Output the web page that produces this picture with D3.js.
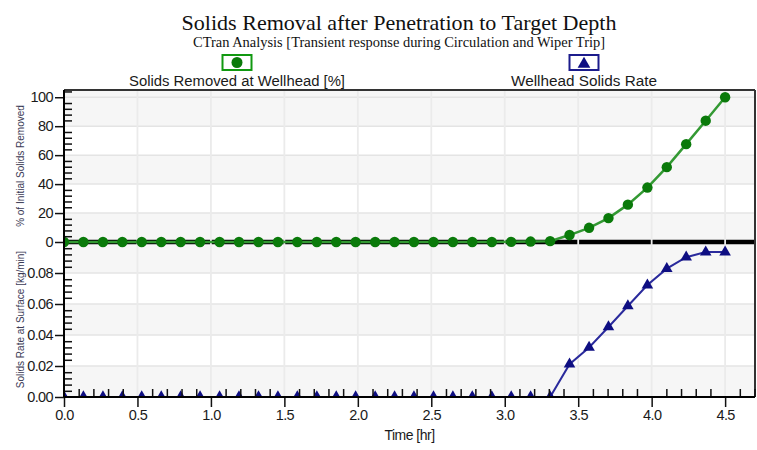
<!DOCTYPE html>
<html>
<head>
<meta charset="utf-8">
<script src="https://cdn.jsdelivr.net/npm/d3@7/dist/d3.min.js"></script>
<style>
  html, body { margin: 0; padding: 0; background: #fff; }
  svg { display: block; }
  text { font-family: "Liberation Sans", Arial, sans-serif; }
</style>
</head>
<body>
<svg id="chart" width="757" height="450"></svg>
<script>
// Elapsed time of each sample [hr]
const times = [0, 0.132, 0.265, 0.397, 0.529, 0.662, 0.794, 0.926, 1.059, 1.191,
  1.324, 1.456, 1.588, 1.721, 1.853, 1.985, 2.118, 2.25, 2.382, 2.515,
  2.647, 2.779, 2.912, 3.044, 3.176, 3.309, 3.441, 3.574, 3.706, 3.838,
  3.971, 4.103, 4.235, 4.368, 4.5];

// Solids removed at wellhead [% of initial solids]
const removedPct = [0, 0, 0, 0, 0, 0, 0, 0, 0, 0,
  0, 0, 0, 0, 0, 0, 0, 0, 0, 0,
  0, 0, 0, 0.1, 0.3, 0.6, 4.8, 9.8, 16.5, 25.8,
  37.6, 51.7, 67.6, 83.8, 100];

// Wellhead solids rate [kg/min]
const solidsRate = [0, 0, 0, 0, 0, 0, 0, 0, 0, 0,
  0, 0, 0, 0, 0, 0, 0, 0, 0, 0,
  0, 0, 0, 0, 0, 0, 0.0212, 0.032, 0.0452, 0.0587,
  0.0722, 0.0828, 0.0902, 0.0935, 0.0935];

const xTicks = [0, 0.5, 1, 1.5, 2, 2.5, 3, 3.5, 4, 4.5];
const pctTicks = [0, 20, 40, 60, 80, 100];
const rateTicks = [0, 0.02, 0.04, 0.06, 0.08];

const titleText = "Solids Removal after Penetration to Target Depth";
const subtitleText = "CTran Analysis [Transient response during Circulation and Wiper Trip]";
const legendNames = ["Solids Removed at Wellhead [%]", "Wellhead Solids Rate"];

const svg = d3.select("#chart");

const L = 64, R = 755, T = 90, MID = 242, B = 397;

const x = d3.scaleLinear().domain([0, 4.7]).range([L, R - 0.5]);
const yPct = d3.scaleLinear().domain([0, 105]).range([MID, T]);
const yRate = d3.scaleLinear().domain([0, 0.1]).range([B, MID]);

const GREEN_LINE = "#339933", GREEN_DOT = "#0a7a0a";
const BLUE_LINE = "#2a2a9c", BLUE_DOT = "#0e0e82";

// ---- alternating background bands ----
const bandFill = "#f6f6f6";
[[0, 20], [40, 60], [80, 105]].forEach(([a, b]) => {
  svg.append("rect").attr("x", L).attr("width", R - L)
    .attr("y", yPct(b)).attr("height", yPct(a) - yPct(b)).attr("fill", bandFill);
});
[[0, 0.02], [0.04, 0.06], [0.08, 0.1]].forEach(([a, b]) => {
  svg.append("rect").attr("x", L).attr("width", R - L)
    .attr("y", yRate(b)).attr("height", yRate(a) - yRate(b)).attr("fill", bandFill);
});

// ---- horizontal grid lines ----
const gridColor = "#e4e4e4";
pctTicks.forEach(v => {
  svg.append("line").attr("x1", L).attr("x2", R).attr("y1", yPct(v)).attr("y2", yPct(v))
    .attr("stroke", gridColor).attr("stroke-width", 1.5);
});
rateTicks.forEach(v => {
  svg.append("line").attr("x1", L).attr("x2", R).attr("y1", yRate(v)).attr("y2", yRate(v))
    .attr("stroke", gridColor).attr("stroke-width", 1.5);
});

// ---- heavy zero line separating the two panels ----
svg.append("line").attr("x1", L).attr("x2", R).attr("y1", MID).attr("y2", MID)
  .attr("stroke", "#000").attr("stroke-width", 4.5);

// ---- vertical grid lines ----
xTicks.filter(v => v > 0).forEach(v => {
  svg.append("line").attr("x1", x(v)).attr("x2", x(v)).attr("y1", T).attr("y2", B)
    .attr("stroke", "#ebebeb").attr("stroke-width", 1.8);
});

// ---- data ----
const clip = svg.append("defs").append("clipPath").attr("id", "plotClip");
clip.append("rect").attr("x", L).attr("y", T).attr("width", R - L).attr("height", B - T);
const plot = svg.append("g").attr("clip-path", "url(#plotClip)");

const pctData = times.map((t, i) => [t, removedPct[i]]);
const rateData = times.map((t, i) => [t, solidsRate[i]]);

// rate series (lower panel)
plot.append("path").datum(rateData)
  .attr("fill", "none").attr("stroke", BLUE_LINE).attr("stroke-width", 2)
  .attr("d", d3.line().x(d => x(d[0])).y(d => yRate(d[1])));
const tri = d3.symbol().type(d3.symbolTriangle).size(58);
plot.selectAll(".tri").data(rateData).join("path")
  .attr("class", "tri")
  .attr("transform", d => `translate(${x(d[0])},${yRate(d[1])})`)
  .attr("d", tri).attr("fill", BLUE_DOT);

// removed-percentage series (upper panel)
plot.append("path").datum(pctData)
  .attr("fill", "none").attr("stroke", GREEN_LINE).attr("stroke-width", 2.5)
  .attr("d", d3.line().x(d => x(d[0])).y(d => yPct(d[1])));
plot.selectAll(".dot").data(pctData).join("circle")
  .attr("class", "dot")
  .attr("cx", d => x(d[0])).attr("cy", d => yPct(d[1])).attr("r", 5.2)
  .attr("fill", GREEN_DOT);

// ---- frame ----
svg.append("line").attr("x1", L).attr("x2", R).attr("y1", T).attr("y2", T)
  .attr("stroke", "#333").attr("stroke-width", 2);
svg.append("line").attr("x1", R).attr("x2", R).attr("y1", T).attr("y2", B)
  .attr("stroke", "#333").attr("stroke-width", 2);

// ---- axes ----
const tickFont = "14.5px";
function styleAxis(g) {
  g.select(".domain").remove();
  g.selectAll(".tick line").attr("stroke", "#111").attr("stroke-width", 1.5);
  g.selectAll(".tick text").attr("fill", "#1a1a1a").style("font-size", tickFont)
    .style("letter-spacing", "-0.6px").style("font-family", "'Liberation Sans', Arial, sans-serif");
}

// x axis: major ticks outward, minor ticks inward
const xMinor = d3.range(1, 48).map(i => i / 10).filter(v => Math.abs(v * 2 - Math.round(v * 2)) > 1e-6);
svg.append("g").attr("transform", `translate(0,${B})`)
  .call(d3.axisBottom(x).tickValues(xMinor).tickSize(-8).tickFormat(""))
  .call(styleAxis);
svg.append("g").attr("transform", `translate(0,${B})`)
  .call(d3.axisBottom(x).tickValues(xTicks).tickSize(10).tickPadding(3).tickFormat(d3.format(".1f")))
  .call(styleAxis);

// upper y axis
const pctMinor = d3.range(4, 105, 4).filter(v => v % 20 !== 0);
svg.append("g").attr("transform", `translate(${L},0)`)
  .call(d3.axisLeft(yPct).tickValues(pctMinor).tickSize(-8).tickFormat(""))
  .call(styleAxis);
svg.append("g").attr("transform", `translate(${L},0)`)
  .call(d3.axisLeft(yPct).tickValues(pctTicks).tickSize(9).tickPadding(2).tickFormat(d3.format("d")))
  .call(styleAxis);

// lower y axis
const rateMinor = d3.range(1, 25).map(i => i * 0.004).filter(v => v < 0.0999 && Math.abs(v / 0.02 - Math.round(v / 0.02)) > 1e-6);
svg.append("g").attr("transform", `translate(${L},0)`)
  .call(d3.axisLeft(yRate).tickValues(rateMinor).tickSize(-8).tickFormat(""))
  .call(styleAxis);
svg.append("g").attr("transform", `translate(${L},0)`)
  .call(d3.axisLeft(yRate).tickValues(rateTicks).tickSize(9).tickPadding(2).tickFormat(d3.format(".2f")))
  .call(styleAxis);

// axis lines
svg.append("line").attr("x1", L).attr("x2", L).attr("y1", T).attr("y2", B)
  .attr("stroke", "#000").attr("stroke-width", 2);
svg.append("line").attr("x1", L).attr("x2", R).attr("y1", B).attr("y2", B)
  .attr("stroke", "#000").attr("stroke-width", 2);

// ---- axis titles ----
svg.append("text").attr("x", (L + R) / 2).attr("y", 440).attr("text-anchor", "middle")
  .style("font-size", "14px").style("letter-spacing", "-0.5px").attr("fill", "#1a1a1a")
  .text("Time [hr]");
svg.append("text").attr("transform", `translate(24,${(T + MID) / 2}) rotate(-90)`)
  .attr("text-anchor", "middle").style("font-size", "10px").attr("fill", "#3a3a55")
  .text("% of Initial Solids Removed");
svg.append("text").attr("transform", `translate(24,${(MID + B) / 2}) rotate(-90)`)
  .attr("text-anchor", "middle").style("font-size", "10px").attr("fill", "#3a3a55")
  .text("Solids Rate at Surface [kg/min]");

// ---- titles ----
svg.append("text").attr("x", 399).attr("y", 30).attr("text-anchor", "middle")
  .style("font-family", "'Liberation Serif', 'Times New Roman', serif").style("font-size", "22px")
  .attr("textLength", 435).attr("lengthAdjust", "spacingAndGlyphs").attr("fill", "#111")
  .text(titleText);
svg.append("text").attr("x", 399).attr("y", 47).attr("text-anchor", "middle")
  .style("font-family", "'Liberation Serif', 'Times New Roman', serif").style("font-size", "14px")
  .attr("textLength", 412).attr("lengthAdjust", "spacingAndGlyphs").attr("fill", "#111")
  .text(subtitleText);

// ---- legend ----
const legend = [
  { cx: 237, name: legendNames[0], color: "#119911", dot: GREEN_DOT, shape: "circle", width: 216 },
  { cx: 584, name: legendNames[1], color: "#1c1c8c", dot: BLUE_DOT, shape: "triangle", width: 146 }
];
legend.forEach(it => {
  svg.append("rect").attr("x", it.cx - 14.5).attr("y", 55).attr("width", 29).attr("height", 15)
    .attr("fill", "#fff").attr("stroke", it.color).attr("stroke-width", 2);
  if (it.shape === "circle") {
    svg.append("circle").attr("cx", it.cx).attr("cy", 62.5).attr("r", 5.5).attr("fill", it.dot);
  } else {
    svg.append("path").attr("transform", `translate(${it.cx},64)`)
      .attr("d", d3.symbol().type(d3.symbolTriangle).size(70)).attr("fill", it.dot);
  }
  svg.append("text").attr("x", it.cx).attr("y", 86).attr("text-anchor", "middle")
    .style("font-size", "14px").attr("textLength", it.width).attr("lengthAdjust", "spacingAndGlyphs")
    .attr("fill", "#1a1a1a").text(it.name);
});
</script>
</body>
</html>
